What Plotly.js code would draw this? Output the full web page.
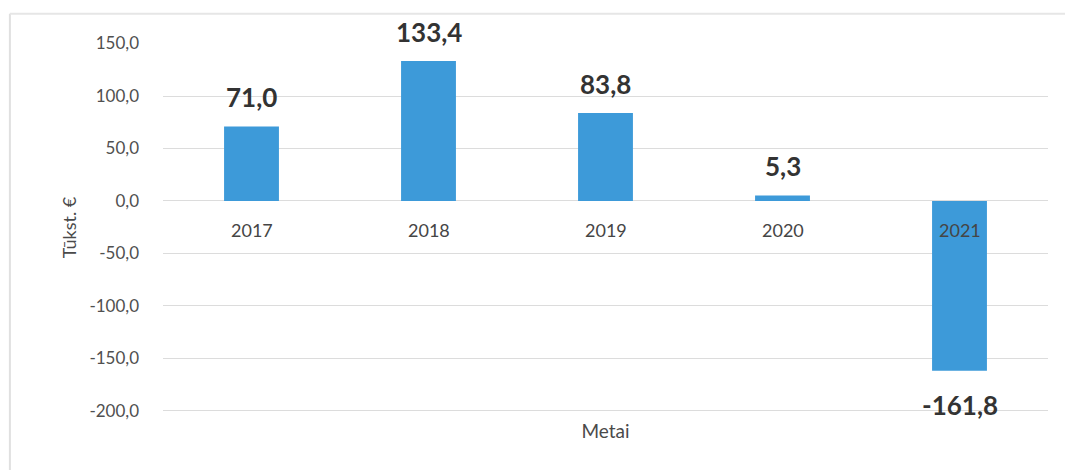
<!DOCTYPE html>
<html>
<head>
<meta charset="utf-8">
<script src="https://cdn.plot.ly/plotly-3.0.1.min.js"></script>
<style>html,body{margin:0;padding:0;background:#fff;}#chart{width:1065px;height:470px;}</style>
</head>
<body>
<div id="chart"></div>
<script>
const years = ['2017', '2018', '2019', '2020', '2021'];
const values = [71.0, 133.4, 83.8, 5.3, -161.8];
const yTicks = [150, 100, 50, 0, -50, -100, -150, -200];

const fmt = v => v.toFixed(1).replace('.', ',');

const annotations = [];
years.forEach((y, i) => {
  annotations.push({
    x: i, y: values[i], xref: 'x', yref: 'y',
    text: '<b>' + fmt(values[i]) + '</b>', showarrow: false,
    yshift: values[i] >= 0 ? 29 : -34,
    font: {family: 'Lato, "Open Sans", sans-serif', size: 26, color: '#333333'}
  });
  annotations.push({
    x: i, y: 0, xref: 'x', yref: 'y',
    text: y, showarrow: false, yshift: -29,
    font: {family: 'Lato, "Open Sans", sans-serif', size: 18, color: '#454545'}
  });
});

const data = [{
  type: 'bar',
  x: years,
  y: values,
  marker: {color: '#3d9ad9'},
  width: 0.31,
  hoverinfo: 'x+y'
}];

const layout = {
  width: 1065, height: 470,
  margin: {l: 163, r: 17, t: 43, b: 58},
  paper_bgcolor: '#ffffff', plot_bgcolor: '#ffffff',
  separators: ', ',
  showlegend: false,
  font: {family: 'Lato, "Open Sans", sans-serif', color: '#505050'},
  xaxis: {
    type: 'category',
    showticklabels: false, ticks: '',
    showgrid: false, zeroline: false, showline: false,
    range: [-0.5, 4.5],
    title: {text: 'Metai', standoff: 12, font: {size: 19, color: '#4a4a4a'}}
  },
  yaxis: {
    range: [-201, 150.5],
    tickvals: yTicks,
    ticktext: yTicks.map(fmt),
    tickfont: {size: 17, color: '#505050'},
    showgrid: true, gridcolor: '#dcdcdc', gridwidth: 1,
    zeroline: true, zerolinecolor: '#dcdcdc', zerolinewidth: 1,
    showline: false, ticks: '',
    ticklabelstandoff: 23,
    title: {text: 'Tūkst. €', standoff: 8, font: {size: 18, color: '#4a4a4a'}}
  },
  annotations: annotations,
  shapes: [
    {type: 'line', xref: 'paper', yref: 'paper', x0: -0.173, x1: -0.173, y0: -0.2, y1: 1.079, line: {color: '#e0e0e0', width: 2}},
    {type: 'line', xref: 'paper', yref: 'paper', x0: -0.173, x1: 1.02, y0: 1.079, y1: 1.079, line: {color: '#e6e6e6', width: 2}}
  ]
};

Plotly.newPlot('chart', data, layout, {displayModeBar: false, staticPlot: true});
</script>
</body>
</html>
